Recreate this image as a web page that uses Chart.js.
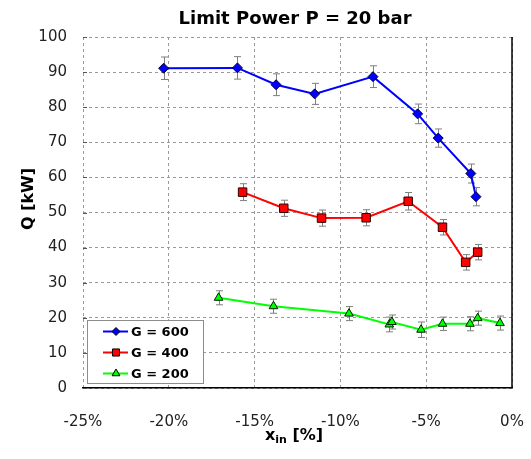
<!DOCTYPE html>
<html>
<head>
<meta charset="utf-8">
<script src="https://cdn.jsdelivr.net/npm/chart.js@4.4.0/dist/chart.umd.min.js"></script>
<style>
  html, body { margin: 0; padding: 0; background: #fff; }
  #wrap { width: 531px; height: 459px; }
</style>
</head>
<body>
<div id="wrap"><canvas id="c" width="531" height="459"></canvas></div>
<script>
// ---- Data ----
const seriesNames = ['G = 600', 'G = 400', 'G = 200'];

const g600X = [-20.3, -16.0, -13.75, -11.5, -8.1, -5.5, -4.3, -2.4, -2.1];
const g600Q = [91.1, 91.2, 86.4, 83.8, 88.7, 78.1, 71.2, 61.1, 54.5];
const g600Err = [3.2, 3.2, 3.1, 3.0, 3.1, 2.8, 2.6, 2.7, 2.6];

const g400X = [-15.7, -13.3, -11.1, -8.5, -6.05, -4.05, -2.7, -2.0];
const g400Q = [55.8, 51.2, 48.4, 48.5, 53.2, 45.8, 35.8, 38.7];
const g400Err = [2.4, 2.3, 2.3, 2.3, 2.5, 2.2, 2.2, 2.2];

const g200X = [-17.1, -13.9, -9.5, -7.15, -7.0, -5.3, -4.05, -2.45, -2.0, -0.7];
const g200Q = [25.7, 23.3, 21.2, 18.1, 18.8, 16.6, 18.3, 18.3, 19.9, 18.5];
const g200Err = [2.0, 2.0, 2.0, 2.1, 2.0, 2.2, 1.9, 2.0, 2.0, 2.0];

const xTicks = [-25, -20, -15, -10, -5, 0];
const yTicks = [0, 10, 20, 30, 40, 50, 60, 70, 80, 90, 100];

const titleText = 'Limit Power P = 20 bar';
const yTitle = 'Q [kW]';

function pts(xs, ys) { return xs.map((x, i) => ({ x: x, y: ys[i] })); }

const errors = [g600Err, g400Err, g200Err];

// ---- Plugins ----
const errorBars = {
  id: 'errorBars',
  beforeDatasetsDraw(chart) {
    const ctx = chart.ctx;
    const xs = chart.scales.x, ys = chart.scales.y;
    ctx.save();
    ctx.strokeStyle = '#7f7f7f';
    ctx.lineWidth = 1;
    chart.data.datasets.forEach((ds, di) => {
      ds.data.forEach((p, i) => {
        const e = errors[di][i];
        const px = Math.round(xs.getPixelForValue(p.x)) + 0.5;
        const yt = ys.getPixelForValue(p.y + e);
        const yb = ys.getPixelForValue(p.y - e);
        ctx.beginPath();
        ctx.moveTo(px, yt); ctx.lineTo(px, yb);
        ctx.moveTo(px - 3.5, yt); ctx.lineTo(px + 3.5, yt);
        ctx.moveTo(px - 3.5, yb); ctx.lineTo(px + 3.5, yb);
        ctx.stroke();
      });
    });
    ctx.restore();
  }
};

const decor = {
  id: 'decor',
  afterDraw(chart) {
    const ctx = chart.ctx;
    const a = chart.chartArea;
    const ys = chart.scales.y;
    ctx.save();
    // right border
    ctx.strokeStyle = '#000';
    ctx.lineWidth = 1.5;
    ctx.beginPath();
    ctx.moveTo(a.right, a.top);
    ctx.lineTo(a.right, a.bottom);
    ctx.stroke();
    // y tick marks inside
    ctx.strokeStyle = '#555';
    ctx.lineWidth = 1;
    yTicks.forEach(v => {
      const y = Math.round(ys.getPixelForValue(v)) + 0.5;
      ctx.beginPath();
      ctx.moveTo(a.left, y); ctx.lineTo(a.left + 4, y);
      ctx.stroke();
    });

    // title
    ctx.fillStyle = '#000';
    ctx.font = 'bold 18px "DejaVu Sans"';
    ctx.textAlign = 'center';
    ctx.textBaseline = 'middle';
    ctx.fillText(titleText, 295, 19);

    // y title
    ctx.save();
    ctx.translate(29, 199);
    ctx.rotate(-Math.PI / 2);
    ctx.font = 'bold 16px "DejaVu Sans"';
    ctx.fillText(yTitle, 0, 0);
    ctx.restore();

    // x title with subscript
    const f1 = 'bold 16px "DejaVu Sans"';
    const f2 = 'bold 11px "DejaVu Sans"';
    ctx.textAlign = 'left';
    ctx.textBaseline = 'alphabetic';
    ctx.font = f1; const w1 = ctx.measureText('x').width;
    ctx.font = f2; const w2 = ctx.measureText('in').width;
    ctx.font = f1; const w3 = ctx.measureText(' [%]').width;
    const total = w1 + w2 + w3;
    let x0 = 294 - total / 2;
    const base = 440;
    ctx.font = f1; ctx.fillText('x', x0, base);
    ctx.font = f2; ctx.fillText('in', x0 + w1, base + 3);
    ctx.font = f1; ctx.fillText(' [%]', x0 + w1 + w2, base);

    // legend
    const lx = 87.5, ly = 320.5, lw = 116, lh = 63;
    ctx.fillStyle = '#fff';
    ctx.fillRect(lx, ly, lw, lh);
    ctx.strokeStyle = '#8c8c8c';
    ctx.lineWidth = 1;
    ctx.strokeRect(lx, ly, lw, lh);
    const rowsY = [331.5, 352.5, 373.5];
    chart.data.datasets.forEach((ds, i) => {
      const y = rowsY[i];
      ctx.strokeStyle = ds.borderColor;
      ctx.lineWidth = 2;
      ctx.beginPath();
      ctx.moveTo(103, y); ctx.lineTo(128, y);
      ctx.stroke();
      ctx.fillStyle = ds.pointBackgroundColor;
      ctx.strokeStyle = '#000';
      ctx.lineWidth = 1;
      Chart.helpers.drawPoint(ctx, {
        pointStyle: ds.pointStyle,
        radius: ds.pointStyle === 'rect' ? 5 : (ds.pointStyle === 'rectRot' ? 4 : 4.5),
        rotation: 0,
        borderWidth: 1
      }, 116, y);
      ctx.fillStyle = '#000';
      ctx.font = 'bold 13px "DejaVu Sans"';
      ctx.textAlign = 'left';
      ctx.textBaseline = 'middle';
      ctx.fillText(seriesNames[i], 131, y + 1);
    });
    ctx.restore();
  }
};

// ---- Chart ----
const tickFont = { family: '"DejaVu Sans"', size: 15 };

const chart = new Chart(document.getElementById('c'), {
  type: 'line',
  data: {
    datasets: [
      {
        label: seriesNames[0], data: pts(g600X, g600Q),
        borderColor: '#0000ff', backgroundColor: '#0000ff',
        pointBackgroundColor: '#0000ff', pointBorderColor: '#000033',
        pointStyle: 'rectRot', pointRadius: 5, pointBorderWidth: 1,
        borderWidth: 2, tension: 0
      },
      {
        label: seriesNames[1], data: pts(g400X, g400Q),
        borderColor: '#ff0000', backgroundColor: '#ff0000',
        pointBackgroundColor: '#ff0000', pointBorderColor: '#330000',
        pointStyle: 'rect', pointRadius: 6, pointBorderWidth: 1,
        borderWidth: 2, tension: 0
      },
      {
        label: seriesNames[2], data: pts(g200X, g200Q),
        borderColor: '#00ff00', backgroundColor: '#00ff00',
        pointBackgroundColor: '#00ff00', pointBorderColor: '#002200',
        pointStyle: 'triangle', pointRadius: 5, pointBorderWidth: 1,
        borderWidth: 2, tension: 0
      }
    ]
  },
  options: {
    responsive: false,
    animation: false,
    layout: { padding: { left: 0, right: 19, top: 37, bottom: 0 } },
    plugins: {
      legend: { display: false },
      title: { display: false },
      tooltip: { enabled: false }
    },
    scales: {
      x: {
        type: 'linear', min: -25, max: 0,
        afterBuildTicks: s => { s.ticks = xTicks.map(v => ({ value: v })); },
        afterFit: s => { s.height = 459 - 388; s.paddingRight = 0; s.paddingLeft = 0; },
        ticks: { font: tickFont, color: '#222', padding: 25, callback: v => v + '%', maxRotation: 0 },
        grid: { color: '#9a9a9a', lineWidth: 1, drawTicks: false },
        border: { display: true, color: '#000', width: 1.5, dash: [3, 3] }
      },
      y: {
        type: 'linear', min: 0, max: 100,
        afterBuildTicks: s => { s.ticks = yTicks.map(v => ({ value: v })); },
        afterFit: s => { s.width = 83; s.paddingTop = 0; s.paddingBottom = 0; },
        ticks: { font: tickFont, color: '#222', padding: 16 },
        grid: { color: '#9a9a9a', lineWidth: 1, drawTicks: false },
        border: { display: false, dash: [3, 3] }
      }
    }
  },
  plugins: [errorBars, decor]
});
</script>
</body>
</html>
